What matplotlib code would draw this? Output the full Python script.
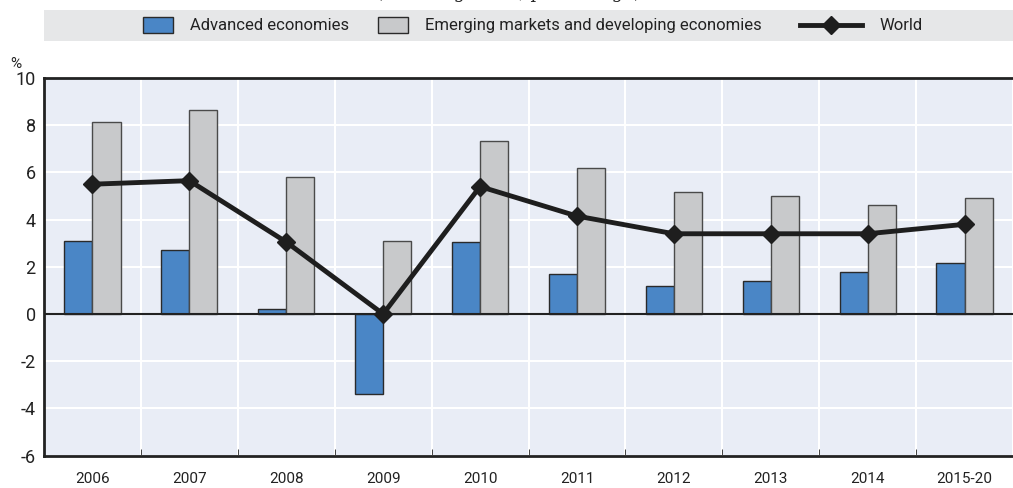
import numpy as np
import matplotlib
matplotlib.use("Agg")
import matplotlib.pyplot as plt
from matplotlib.patches import Rectangle

plt.rcParams['font.family'] = ['Liberation Sans Narrow', 'Roboto', 'DejaVu Sans']
plt.rcParams['axes.unicode_minus'] = False

# Data (% growth)
categories = ['2006', '2007', '2008', '2009', '2010', '2011', '2012', '2013', '2014', '2015-20']
advanced = [3.1, 2.7, 0.2, -3.4, 3.05, 1.7, 1.2, 1.4, 1.8, 2.15]
emerging = [8.15, 8.65, 5.8, 3.1, 7.35, 6.2, 5.15, 5.0, 4.6, 4.9]
world = [5.5, 5.65, 3.05, 0.0, 5.4, 4.15, 3.4, 3.4, 3.4, 3.8]

BLUE = '#4a86c6'
GREY = '#c8c9cb'
BG = '#e9edf6'
DARK = '#1e1e1e'

W, H = 1013, 488
fig = plt.figure(figsize=(W / 100, H / 100), dpi=100)
ax = fig.add_axes([44 / W, (H - 455.6) / H, 969 / W, (455.6 - 78) / H])
ax.set_facecolor(BG)

x = np.arange(len(categories))
bw = 0.29
ax.bar(x - bw / 2, advanced, bw, color=BLUE, edgecolor='#2a2a2a', linewidth=1, zorder=3)
ax.bar(x + bw / 2, emerging, bw, color=GREY, edgecolor='#4a4a4a', linewidth=1, zorder=3)
ax.plot(x, world, color=DARK, linewidth=3.5, marker='D', markersize=9, zorder=5)

ax.set_xlim(-0.5, len(categories) - 0.5)
ax.set_ylim(-6, 10)
ax.set_yticks(np.arange(-6, 11, 2))
ax.set_xticks(x)
ax.set_xticklabels(categories)
ax.set_xticks(np.arange(-0.5, len(categories), 1), minor=True)
ax.tick_params(axis='x', which='major', length=0, pad=12, labelsize=11, colors='#222222')
ax.tick_params(axis='x', which='minor', length=5, direction='in', color='#222222')
ax.tick_params(axis='y', length=0, pad=6, labelsize=13, colors='#222222')

ax.grid(axis='y', color='white', linewidth=1.5, zorder=0)
ax.grid(axis='x', which='minor', color='white', linewidth=1.5, zorder=0)
ax.set_axisbelow(True)
ax.axhline(0, color='#222222', linewidth=1.5, zorder=4)

for s in ['left', 'bottom', 'top']:
    ax.spines[s].set_color('#222222')
    ax.spines[s].set_linewidth(2)
ax.spines['right'].set_visible(False)

fig.text(10 / W, 1 - 64 / H, '%', fontsize=11, color='#222222', va='center')

# subtitle, mostly cut off by the top edge as in the original
fig.text(508 / W, 1 + 1.5 / H, '(Annual growth, percentage)', family='DejaVu Serif',
         fontsize=13, ha='center', va='baseline', color='#222222')

# legend band, drawn by hand in pixel units of the band (x from 44, y up from 41)
band = fig.add_axes([44 / W, 1 - 41 / H, 969 / W, 31 / H])
band.set_facecolor('#e6e7e8')
band.set_xlim(44, 1013)
band.set_ylim(41, 10)
band.set_xticks([])
band.set_yticks([])
for s in band.spines.values():
    s.set_visible(False)

band.add_patch(Rectangle((143, 17), 30, 16, facecolor=BLUE, edgecolor='#2a2a2a', linewidth=1))
band.text(190, 25.5, 'Advanced economies', fontsize=12, va='center', color='#222222')
band.add_patch(Rectangle((378, 17), 30, 16, facecolor=GREY, edgecolor='#2a2a2a', linewidth=1))
band.text(425, 25.5, 'Emerging markets and developing economies', fontsize=12, va='center',
          color='#222222')
band.plot([800, 862], [25, 25], color=DARK, linewidth=3.5)
band.plot([831], [25], color=DARK, marker='D', markersize=9)
band.text(880, 25.5, 'World', fontsize=12, va='center', color='#222222')

fig.savefig('out.png', dpi=100)
